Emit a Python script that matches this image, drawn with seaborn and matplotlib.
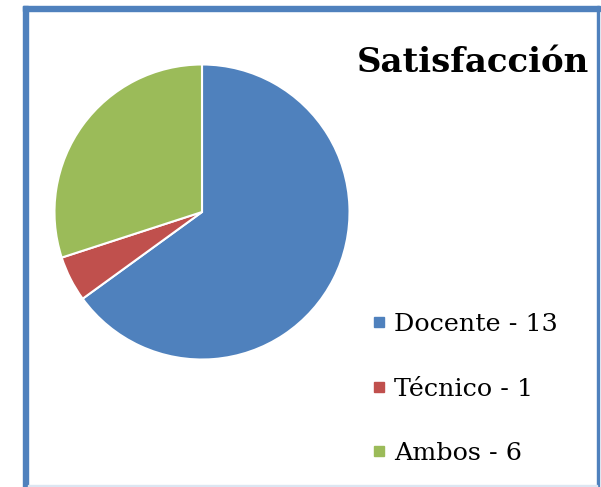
import matplotlib
matplotlib.use("Agg")
import matplotlib.pyplot as plt
from matplotlib.patches import Rectangle
from matplotlib.lines import Line2D
import seaborn as sns

sns.set_style("white")

categories = ["Docente", "Técnico", "Ambos"]
values = [13, 1, 6]
colors = ["#4F81BD", "#C0504D", "#9BBB59"]
title = "Satisfacción"

W, H = 601, 487
fig = plt.figure(figsize=(W / 100, H / 100), dpi=100)
fig.patch.set_facecolor("white")

# pie axes placed so the circle sits at about (202, 212) px, radius 149 px
cx, cy, r = 202, 212, 149
ax = fig.add_axes([(cx - r) / W, (H - cy - r) / H, 2 * r / W, 2 * r / H])
ax.pie(values, colors=colors, startangle=90, counterclock=False,
       wedgeprops=dict(edgecolor="white", linewidth=1.5))
ax.set_xlim(-1.01, 1.01)
ax.set_ylim(-1.01, 1.01)
ax.set_aspect("equal")
ax.axis("off")

# chart frame
def px(x0, y0, x1, y1, color):
    fig.patches.append(Rectangle((x0 / W, 1 - y1 / H), (x1 - x0) / W, (y1 - y0) / H,
                                 transform=fig.transFigure, color=color, zorder=5))

px(23, 6, 600, 11, "#4F81BD")       # top
px(23, 6, 28, 487, "#4F81BD")       # left
px(597, 6, 599, 487, "#4F81BD")     # right
px(28, 485, 597, 487, "#DCE6F2")    # bottom

fig.text(473 / W, 1 - 62 / H, title, ha="center", va="center", color="black",
         fontsize=24.5, fontweight="bold", family="DejaVu Serif")

handles = [Line2D([], [], marker="s", linestyle="none", markersize=7.5,
                  markerfacecolor=c, markeredgecolor=c) for c in colors]
labels = [f"{c} - {v}" for c, v in zip(categories, values)]
fig.legend(handles, labels, loc="upper left", bbox_to_anchor=(343 / W, 1 - 290 / H),
           frameon=False, handletextpad=0.1, handlelength=1.0, labelspacing=1.64,
           labelcolor="black", prop=dict(family="DejaVu Serif", size=18.3))

fig.savefig("out.png", dpi=100)
